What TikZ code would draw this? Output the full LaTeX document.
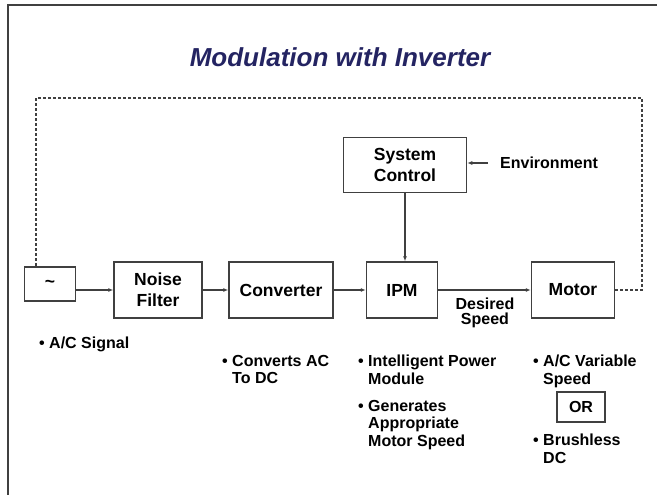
\documentclass[tikz,border=0pt]{standalone}
\usepackage{fontspec}
\setmainfont{Liberation Sans}
\usetikzlibrary{arrows.meta}
\definecolor{titleblue}{RGB}{36,36,98}
\definecolor{linegray}{RGB}{64,64,64}
\tikzset{
  blk/.style={draw=linegray, line width=1.5pt, align=center, inner sep=0pt,
              font=\fontsize{17.5}{21}\selectfont\bfseries, minimum height=56pt},
  bl/.style={anchor=north west, inner sep=0pt, align=left,
             font=\fontsize{16}{17.5}\selectfont\bfseries},
  fa/.style={-{Latex[length=5pt,width=4pt]}, linegray, line width=1.4pt},
  fb/.style={linegray, line width=1.3pt, dash pattern=on 3pt off 2pt}
}
\begin{document}
\begin{tikzpicture}[x=1pt, y=-1pt]
  \useasboundingbox (0,0) rectangle (657,495);
  \draw[linegray, line width=2pt] (657,5) -- (8,5) -- (8,495);
  \node[text=titleblue, font=\fontsize{26}{30}\selectfont\bfseries\itshape] (title) at (340,57) {Modulation with Inverter};
  % main chain
  \node[blk, minimum width=51pt, minimum height=34pt] (tilde) at (50,284) {\textasciitilde};
  \node[blk, minimum width=88pt] (nf) at (158,290) {Noise\\Filter};
  \node[blk, minimum width=104pt] (conv) at (281,290) {Converter};
  \node[blk, minimum width=71pt] (ipm) at (402,290) {IPM};
  \node[blk, minimum width=83pt] (motor) at (573,290) {Motor};
  \node[blk, minimum width=123pt, minimum height=55pt] (sysc) at (405,165) {System\\Control};
  \node[bl, anchor=west, inner xsep=12pt] (env) at (488,163) {Environment};
  \node[font=\fontsize{16}{15.5}\selectfont\bfseries, align=center] (dspeed) at (485,313) {Desired\\Speed};
  \draw[fa] (tilde.east |- nf.west) -- (nf.west);
  \draw[fa] (nf) -- (conv); \draw[fa] (conv) -- (ipm); \draw[fa] (ipm) -- (motor);
  \draw[fa] (sysc) -- (sysc |- ipm.north);
  \draw[fa] (env.west) -- (sysc.east |- env.west);
  % feedback loop
  \coordinate (fbR) at (642,98); \coordinate (fbL) at (36,98);
  \draw[fb] (motor.east) -| (fbR) -- (fbL) -- (fbL |- tilde.north);
  % notes
  \node[bl] (n1) at (39,337) {\textbullet\ A/C Signal};
  \node[bl] (n2) at (222,355) {\textbullet\ Converts AC\\\hphantom{\textbullet\ }To DC};
  \node[bl] (n3) at (358,355) {\textbullet\ Intelligent Power\\\hphantom{\textbullet\ }Module};
  \node[bl] (n4) at (358,400) {\textbullet\ Generates\\\hphantom{\textbullet\ }Appropriate\\\hphantom{\textbullet\ }Motor Speed};
  \node[bl] (n5) at (533,355) {\textbullet\ A/C Variable\\\hphantom{\textbullet\ }Speed};
  \node[blk, font=\fontsize{16}{17}\selectfont\bfseries, minimum width=48pt, minimum height=30pt] (or) at (581,407) {OR};
  \node[bl] (n6) at (533,434) {\textbullet\ Brushless\\\hphantom{\textbullet\ }DC};
\end{tikzpicture}
\end{document}
